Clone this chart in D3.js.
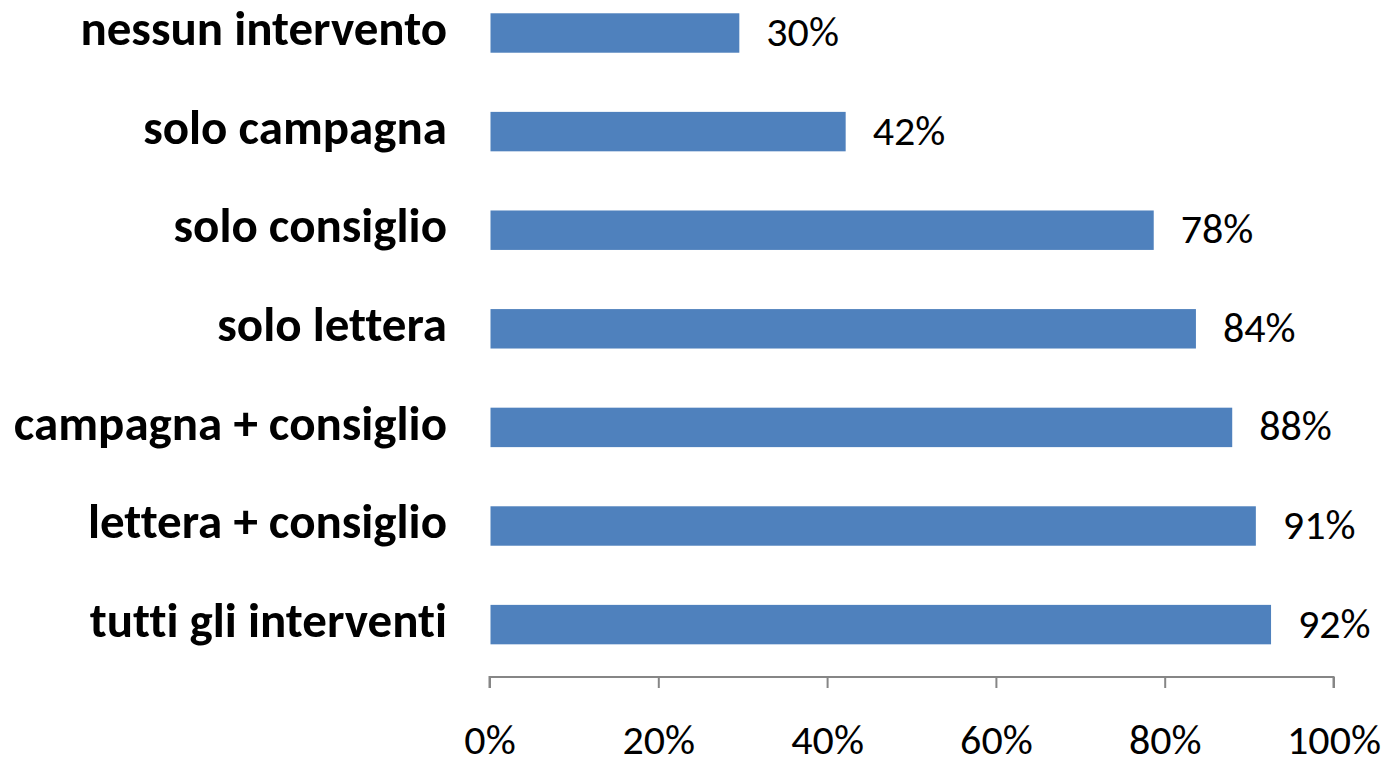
<!DOCTYPE html>
<meta charset="utf-8">
<head>
  <style>
    body { margin: 0; background: #fff; }
    svg text { font-family: Carlito, Calibri, "Open Sans", sans-serif; fill: #000; font-variant-ligatures: none; }
    .cat { font-weight: bold; font-size: 49px; }
    .val { font-size: 42px; }
    .axis text { font-size: 42px; }
    .axis path, .axis line { stroke: #868686; stroke-width: 2px; }
  </style>
  <script src="https://cdn.jsdelivr.net/npm/d3@7"></script>
</head>
<body>
<div id="chart"></div>
<script>
  // *** data
  var categories = ["nessun intervento", "solo campagna", "solo consiglio", "solo lettera",
                    "campagna + consiglio", "lettera + consiglio", "tutti gli interventi"];
  var values = [0.296, 0.422, 0.787, 0.837, 0.880, 0.908, 0.926];
  var valueLabels = ["30%", "42%", "78%", "84%", "88%", "91%", "92%"];
  var tickValues = [0, 0.2, 0.4, 0.6, 0.8, 1];

  var width = 1384, height = 758;

  var svg = d3.select("#chart").append("svg")
    .attr("width", width)
    .attr("height", height);

  var x = d3.scaleLinear()
    .domain([0, 1])
    .range([489.5, 1333.5]);

  var y = d3.scaleBand()
    .domain(categories)
    .range([-16.3, 673.9])
    .paddingInner(0.6)
    .paddingOuter(0.3);

  // x axis
  var xAxis = d3.axisBottom(x)
    .tickValues(tickValues)
    .tickSize(11)
    .tickFormat(d3.format(".0%"));

  svg.append("g")
    .attr("class", "axis")
    .attr("transform", "translate(0,677)")
    .call(xAxis)
    .call(function(g) { g.select(".domain").attr("d", "M" + x(0) + ",11V0H" + x(1) + "V11"); })
    .selectAll("text")
    .attr("y", 77)
    .attr("dy", 0);

  // bars
  svg.selectAll(".bar")
    .data(values)
    .enter().append("rect")
    .attr("class", "bar")
    .attr("x", x(0) + 1)
    .attr("y", function(d, i) { return y(categories[i]); })
    .attr("width", function(d) { return x(d) - x(0) - 1; })
    .attr("height", y.bandwidth())
    .attr("fill", "#4F81BD");

  // value labels
  svg.selectAll(".val")
    .data(values)
    .enter().append("text")
    .attr("class", "val")
    .attr("x", function(d) { return x(d) + 27; })
    .attr("y", function(d, i) { return y(categories[i]) + y.bandwidth() / 2; })
    .attr("dy", "0.31em")
    .text(function(d, i) { return valueLabels[i]; });

  // category labels
  svg.selectAll(".cat")
    .data(categories)
    .enter().append("text")
    .attr("class", "cat")
    .attr("x", 447)
    .attr("y", function(d) { return y(d) + y.bandwidth() / 2; })
    .attr("dy", "0.25em")
    .style("text-anchor", "end")
    .text(function(d) { return d; });
</script>
</body>
